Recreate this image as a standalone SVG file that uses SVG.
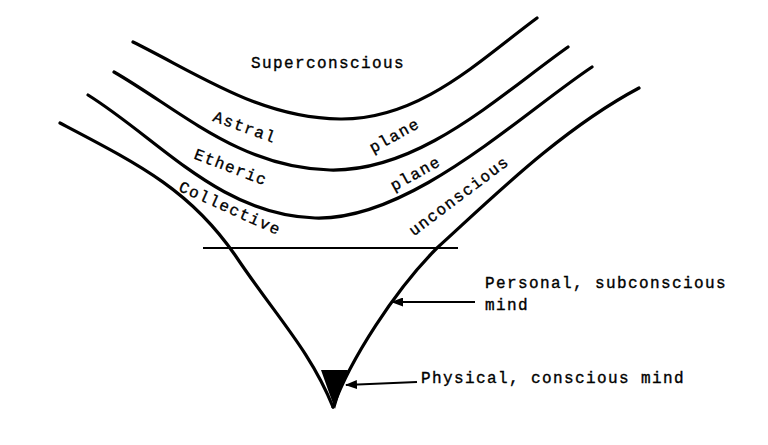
<svg xmlns="http://www.w3.org/2000/svg" width="768" height="445" viewBox="0 0 768 445">
<style>
.curve{fill:none;stroke:#000;stroke-width:3.2;stroke-linecap:round}
.thin{fill:none;stroke:#000;stroke-width:2.2}
.lbl{font-family:"Liberation Mono","DejaVu Sans Mono",monospace;font-size:16px;letter-spacing:1.4px;fill:#000;stroke:#000;stroke-width:0.35}
</style>
<defs>
<marker id="ah" viewBox="0 0 12 9" refX="11" refY="4.5" markerWidth="12" markerHeight="9" orient="auto" markerUnits="userSpaceOnUse">
<path d="M0,0 L12,4.5 L0,9 Z" fill="#000"/>
</marker>
</defs>
<rect width="768" height="445" fill="#fff"/>
<g id="superconscious">
<path class="curve" d="M133,42 C200,75 260,118 340,119 C420,120 480,60 537,18"/>
<text class="lbl" x="328" y="68" text-anchor="middle">Superconscious</text>
</g>
<g id="astral-plane">
<path class="curve" d="M114,72 C180,110 240,168 330,170 C420,172 500,95 568,47"/>
<text class="lbl" x="243" y="132" text-anchor="middle" transform="rotate(20 243 132)">Astral</text>
<text class="lbl" x="397" y="140" text-anchor="middle" transform="rotate(-29 397 140)">plane</text>
</g>
<g id="etheric-plane">
<path class="curve" d="M88,95 C160,140 220,215 315,218 C410,221 520,115 592,67"/>
<text class="lbl" x="229" y="172" text-anchor="middle" transform="rotate(21 229 172)">Etheric</text>
<text class="lbl" x="418" y="178" text-anchor="middle" transform="rotate(-29 418 178)">plane</text>
</g>
<g id="collective-unconscious">
<path class="curve" d="M60,123 C140,165 190,190 235,255 C275,315 310,350 333,407"/>
<path class="curve" d="M333,407 C350,360 395,290 437,248 C490,200 560,130 639,88"/>
<text class="lbl" x="228" y="213" text-anchor="middle" transform="rotate(24 228 213)">Collective</text>
<text class="lbl" x="462" y="200" text-anchor="middle" transform="rotate(-37 462 200)">unconscious</text>
</g>
<g id="threshold">
<line class="thin" x1="203" y1="248" x2="458" y2="248"/>
</g>
<g id="physical">
<path d="M321,370 L348,370 Q340,390 335,409 Q328,390 321,370 Z" fill="#000"/>
</g>
<g id="labels">
<text class="lbl" x="485" y="288">Personal, subconscious</text>
<text class="lbl" x="485" y="310">mind</text>
<text class="lbl" x="421" y="383">Physical, conscious mind</text>
</g>
<g id="connectors">
<line class="thin" x1="475" y1="302" x2="392" y2="302" marker-end="url(#ah)"/>
<line class="thin" x1="417" y1="382" x2="346" y2="385" marker-end="url(#ah)"/>
</g>
</svg>
